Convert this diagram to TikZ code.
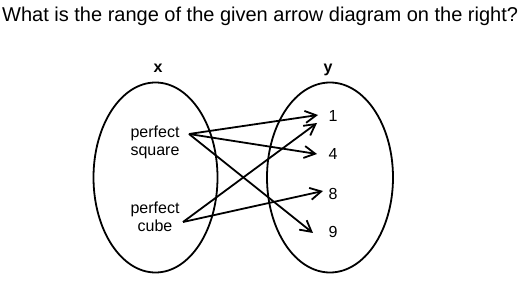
\documentclass[tikz,border=0pt]{standalone}
\usepackage{fontspec}
\setmainfont{Liberation Sans}
\usetikzlibrary{arrows.meta}
\begin{document}
\begin{tikzpicture}[x=1pt,y=-1pt,
    setoval/.style={line width=1.8pt},
    mapto/.style={line width=1.8pt, -{Straight Barb[length=11pt,width=12pt,line width=1.8pt]}},
    elem/.style={font=\fontsize{16}{18.5}\selectfont, inner sep=0pt, align=center},
    head/.style={font=\fontsize{16}{18.5}\selectfont\bfseries, inner sep=0pt, anchor=base}]
  \useasboundingbox (0,0) rectangle (525,283);
  \node[anchor=base west, inner sep=0pt, font=\fontsize{20}{24}\selectfont] (title) at (2,22)
    {What is the range of the given arrow diagram on the right?};
  % the two sets
  \draw[setoval] (155.5,177.5) ellipse [x radius=62, y radius=95];
  \draw[setoval] (330,177.5) ellipse [x radius=63, y radius=95];
  \node[head] (setx) at (158,73) {x};
  \node[head] (sety) at (328,73) {y};
  \node[elem, anchor=base] (sq) at (155,156) {perfect\\square};
  \node[elem, anchor=base] (cu) at (155,232) {perfect\\cube};
  \foreach \v/\yb in {1/122, 4/160, 8/200, 9/238}
    \node[elem, anchor=base] (n\v) at (333,\yb) {\v};
  % arrow ends
  \coordinate (sqo) at (189,134);
  \coordinate (cuo) at (183,222);
  \coordinate (t1a) at (318,115);
  \coordinate (t1b) at (317,123);
  \coordinate (t4) at (317,154);
  \coordinate (t8) at (323,191);
  \coordinate (t9) at (313,233);
  \draw[mapto] (sqo) -- (t1a);
  \draw[mapto] (sqo) -- (t4);
  \draw[mapto] (sqo) -- (t9);
  \draw[mapto] (cuo) -- (t1b);
  \draw[mapto] (cuo) -- (t8);
\end{tikzpicture}
\end{document}
